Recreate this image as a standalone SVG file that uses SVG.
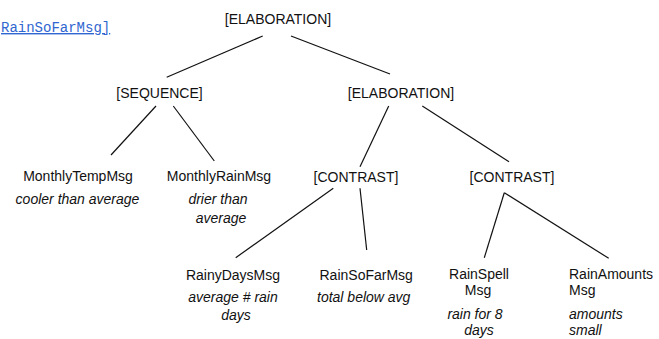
<svg xmlns="http://www.w3.org/2000/svg" width="659" height="339" viewBox="0 0 659 339">
  <style>
    .lbl { font-family: "Liberation Sans", Arial, sans-serif; font-size: 14px; fill: #111; }
    .mid { text-anchor: middle; }
    .note { font-style: italic; }
    .edge { stroke: #111; stroke-width: 1.2; fill: none; }
    .link { font-family: "Liberation Mono", "Courier New", monospace; font-size: 14px; fill: #2f66d0; text-decoration: underline; }
  </style>
  <rect width="659" height="339" fill="#fff"/>

  <text class="link" x="1" y="32">RainSoFarMsg]</text>

  <g id="connectors">
    <line class="edge" x1="262.7" y1="36" x2="166.7" y2="77.3"/>
    <line class="edge" x1="291" y1="36" x2="390" y2="74"/>
    <line class="edge" x1="156" y1="106" x2="111" y2="155"/>
    <line class="edge" x1="173.3" y1="106" x2="214.3" y2="161"/>
    <line class="edge" x1="388.7" y1="106" x2="360" y2="166.7"/>
    <line class="edge" x1="422.3" y1="106" x2="509" y2="161.7"/>
    <line class="edge" x1="333.3" y1="188.3" x2="235.7" y2="257.7"/>
    <line class="edge" x1="360" y1="188.3" x2="366.7" y2="250"/>
    <line class="edge" x1="504.3" y1="192.7" x2="484.3" y2="257.7"/>
    <line class="edge" x1="504.3" y1="192.7" x2="608.7" y2="258.3"/>
  </g>

  <g id="root-elaboration">
    <text class="lbl mid" x="278" y="24">[ELABORATION]</text>
  </g>
  <g id="sequence">
    <text class="lbl mid" x="159.5" y="98">[SEQUENCE]</text>
  </g>
  <g id="elaboration">
    <text class="lbl mid" x="401" y="98">[ELABORATION]</text>
  </g>
  <g id="monthly-temp">
    <text class="lbl mid" x="78" y="181">MonthlyTempMsg</text>
    <text class="lbl mid note" x="77.5" y="204">cooler than average</text>
  </g>
  <g id="monthly-rain">
    <text class="lbl mid" x="219" y="181">MonthlyRainMsg</text>
    <text class="lbl mid note" x="218" y="204">drier than</text>
    <text class="lbl mid note" x="221" y="223">average</text>
  </g>
  <g id="contrast-1">
    <text class="lbl mid" x="356" y="182">[CONTRAST]</text>
  </g>
  <g id="contrast-2">
    <text class="lbl mid" x="512" y="182">[CONTRAST]</text>
  </g>
  <g id="rainy-days">
    <text class="lbl mid" x="233" y="280">RainyDaysMsg</text>
    <text class="lbl mid note" x="233" y="302">average # rain</text>
    <text class="lbl mid note" x="236" y="320">days</text>
  </g>
  <g id="rain-so-far">
    <text class="lbl" x="319.5" y="280">RainSoFarMsg</text>
    <text class="lbl note" x="317" y="302">total below avg</text>
  </g>
  <g id="rain-spell">
    <text class="lbl mid" x="479" y="279">RainSpell</text>
    <text class="lbl mid" x="478" y="295">Msg</text>
    <text class="lbl mid note" x="475" y="319">rain for 8</text>
    <text class="lbl mid note" x="479" y="335">days</text>
  </g>
  <g id="rain-amounts">
    <text class="lbl" x="569" y="279">RainAmounts</text>
    <text class="lbl" x="569" y="295">Msg</text>
    <text class="lbl note" x="569" y="319">amounts</text>
    <text class="lbl note" x="569" y="335">small</text>
  </g>
</svg>
